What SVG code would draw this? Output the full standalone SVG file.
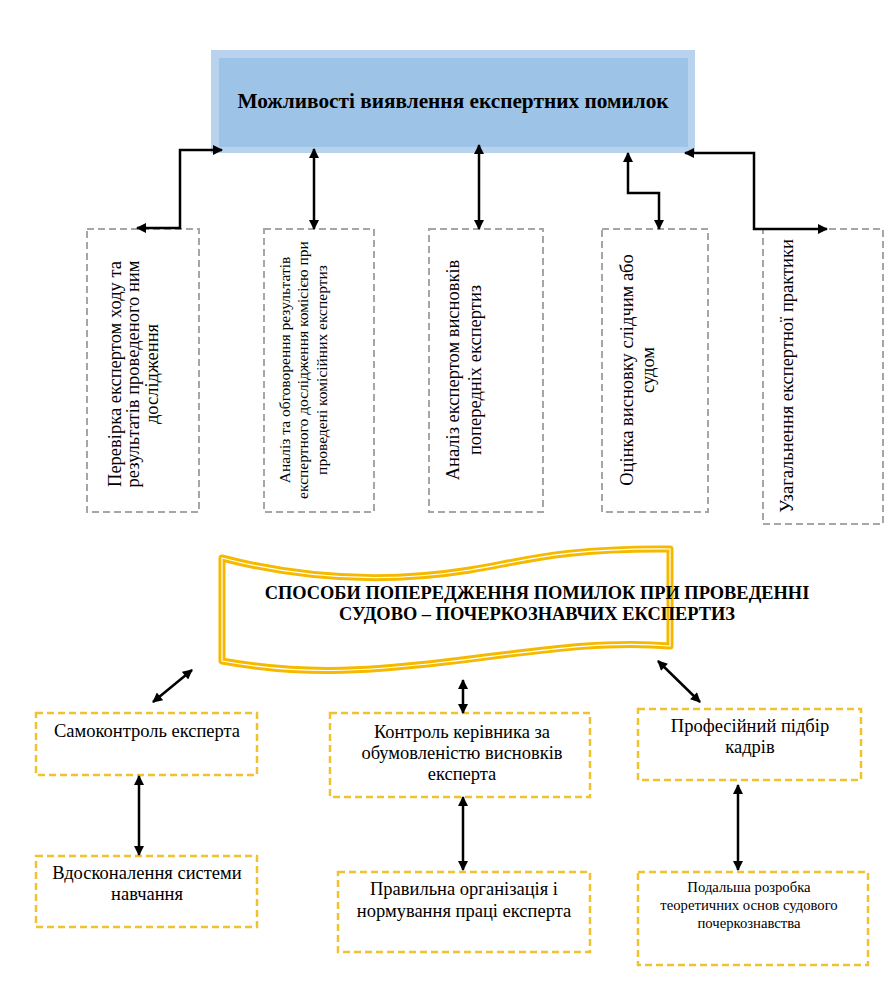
<svg xmlns="http://www.w3.org/2000/svg" width="884" height="989" viewBox="0 0 884 989" font-family="'Liberation Serif', 'Times New Roman', serif">
<defs>
<marker id="ah" viewBox="0 0 10 10" refX="9" refY="5" markerWidth="11" markerHeight="10" markerUnits="userSpaceOnUse" orient="auto-start-reverse">
<path d="M0,0 L10,5 L0,10 Z" fill="#000"/>
</marker>
<style>
text{font-family:"Liberation Serif","Times New Roman",serif;fill:#000}
.b{font-weight:bold}
.gbox{fill:#fff;stroke:#a6a6a6;stroke-width:2;stroke-dasharray:7,4}
.ybox{fill:#fff;stroke:#EFC22F;stroke-width:2.5;stroke-dasharray:7,4}
.c{fill:none;stroke:#000;stroke-width:2.5;marker-start:url(#ah);marker-end:url(#ah)}
</style>
</defs>
<rect width="884" height="989" fill="#fff"/>

<g id="top">
<rect x="211" y="50" width="484" height="103" fill="#B9D3EE"/>
<rect x="219" y="58" width="469" height="89" fill="#9DC3E6"/>
<text class="b" x="453" y="108" font-size="21.3" text-anchor="middle">Можливості виявлення експертних помилок</text>
</g>

<g id="n1">
<rect class="gbox" x="87" y="229" width="112" height="283"/>
<g font-size="18.5" text-anchor="middle">
<text transform="translate(121,374) rotate(-90)">Перевірка  експертом ходу та</text>
<text transform="translate(139,374) rotate(-90)">результатів проведеного ним</text>
<text transform="translate(158,374) rotate(-90)">дослідження</text>
</g>
</g>

<g id="n2">
<rect class="gbox" x="264" y="229" width="110" height="283"/>
<g font-size="15.5" text-anchor="middle">
<text transform="translate(290,370) rotate(-90)">Аналіз  та обговорення результатів</text>
<text transform="translate(308,370) rotate(-90)">експертного дослідження комісією при</text>
<text transform="translate(327,370) rotate(-90)">проведені комісійних експертиз</text>
</g>
</g>

<g id="n3">
<rect class="gbox" x="429" y="229" width="114" height="283"/>
<g font-size="18.5" text-anchor="middle">
<text transform="translate(459,370) rotate(-90)">Аналіз експертом висновків</text>
<text transform="translate(481,370) rotate(-90)">попередніх експертиз</text>
</g>
</g>

<g id="n4">
<rect class="gbox" x="602" y="229" width="106" height="283"/>
<g font-size="18.5" text-anchor="middle">
<text transform="translate(633,370) rotate(-90)">Оцінка висновку слідчим або</text>
<text transform="translate(654,370) rotate(-90)">судом</text>
</g>
</g>

<g id="n5">
<rect class="gbox" x="763" y="229" width="120" height="295"/>
<text font-size="18.5" text-anchor="middle" transform="translate(793,376) rotate(-90)">Узагальнення експертної практики</text>
</g>

<g id="banner">
<path d="M222,558 C330,586 420,578 470,570 S560,548 670,549 L670,646 C600,640 530,652 445,662 S300,675 222,661 Z" fill="#fff" stroke="#F5BA00" stroke-width="7" stroke-linejoin="round"/>
<path d="M222,558 C330,586 420,578 470,570 S560,548 670,549 L670,646 C600,640 530,652 445,662 S300,675 222,661 Z" fill="none" stroke="#fff" stroke-width="1.2"/>
<g class="b" font-size="18.4" text-anchor="middle">
<text x="537" y="599">СПОСОБИ ПОПЕРЕДЖЕННЯ ПОМИЛОК ПРИ ПРОВЕДЕННІ</text>
<text x="537" y="620">СУДОВО – ПОЧЕРКОЗНАВЧИХ ЕКСПЕРТИЗ</text>
</g>
</g>

<g id="b1">
<rect class="ybox" x="36" y="713" width="221" height="62"/>
<text x="147" y="737" font-size="18.5" text-anchor="middle">Самоконтроль експерта</text>
</g>

<g id="b2">
<rect class="ybox" x="330" y="713" width="260" height="84"/>
<g font-size="18.5" text-anchor="middle">
<text x="462" y="738">Контроль керівника за</text>
<text x="462" y="759">обумовленістю висновків</text>
<text x="462" y="780">експерта</text>
</g>
</g>

<g id="b3">
<rect class="ybox" x="638" y="709" width="223" height="71"/>
<g font-size="18.5" text-anchor="middle">
<text x="750" y="732">Професійний підбір</text>
<text x="750" y="753">кадрів</text>
</g>
</g>

<g id="b4">
<rect class="ybox" x="36" y="856" width="221" height="71"/>
<g font-size="18.5" text-anchor="middle">
<text x="147" y="879">Вдосконалення системи</text>
<text x="147" y="900">навчання</text>
</g>
</g>

<g id="b5">
<rect class="ybox" x="338" y="872" width="252" height="80"/>
<g font-size="18.5" text-anchor="middle">
<text x="464" y="895">Правильна організація і</text>
<text x="464" y="917">нормування праці експерта</text>
</g>
</g>

<g id="b6">
<rect class="ybox" x="638" y="872" width="230" height="93"/>
<g font-size="14.7" text-anchor="middle">
<text x="749" y="892">Подальша розробка</text>
<text x="749" y="910">теоретичних основ судового</text>
<text x="749" y="928">почеркознавства</text>
</g>
</g>

<g id="connectors">
<path class="c" d="M137,228 H180 V150 H222"/>
<path class="c" d="M314,149 V229"/>
<path class="c" d="M479,145 V229"/>
<path class="c" d="M628,153 V193 H659 V229"/>
<path class="c" d="M685,153 H754 V229 H827"/>
<path class="c" d="M153,702 L192,670"/>
<path class="c" d="M463,680 V713"/>
<path class="c" d="M658,661 L700,702"/>
<path class="c" d="M139,776 V855"/>
<path class="c" d="M463,797 V870"/>
<path class="c" d="M738,785 V870"/>
</g>
</svg>
